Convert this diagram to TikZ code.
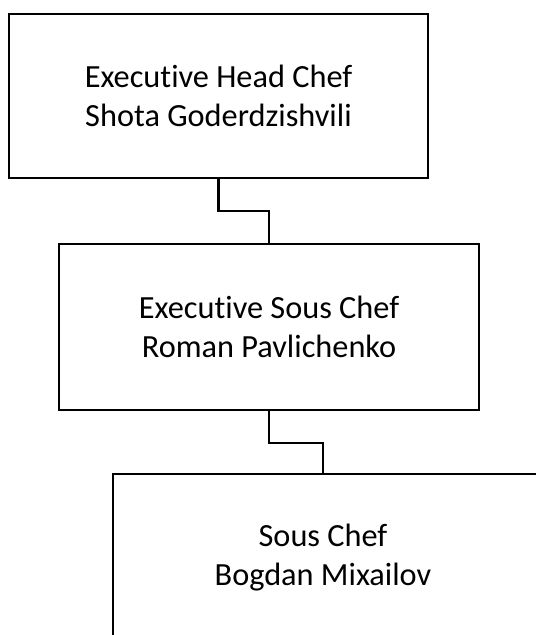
\documentclass[tikz,border=0pt]{standalone}
\usepackage{fontspec}
\setmainfont{Carlito}[Ligatures=NoCommon]
\usepackage{tikz}

\begin{document}
\begin{tikzpicture}[x=0.02cm, y=-0.02cm,
    chefbox/.style={draw, line width=1.1pt, rectangle, minimum width=420*0.02cm,
        minimum height=166*0.02cm, inner sep=0pt, align=center,
        font=\fontsize{18.4}{22.2}\selectfont},
    cheftext/.style={inner sep=0pt, align=center,
        font=\fontsize{18.4}{22.2}\selectfont},
    link/.style={line width=1.4pt}]
                % Page frame
                \useasboundingbox (0,0) rectangle (536,635);
                \clip (0,0) rectangle (536,635);
                \fill[white] (0,0) rectangle (536,635);

                % Boxes
                \node[chefbox, minimum width=419*0.02cm, minimum height=164*0.02cm] (head) at (218.5,96)
                    {Executive Head Chef\\Shota Goderdzishvili};
                \node[chefbox] (exsous) at (269,327)
                    {Executive Sous Chef\\Roman Pavlichenko};
                \node[chefbox, minimum width=460*0.02cm] (sous) at (343,557) {};
                \node[cheftext] (soustext) at (323,558)
                    {Sous Chef\\Bogdan Mixailov};

                % Bends
                \coordinate (bend1) at (244,211);
                \coordinate (bend2) at (296,443);

                % Links
                \draw[link] (head.south) |- (bend1) -| (exsous.north);
                \draw[link] (exsous.south) |- (bend2) -| (soustext |- sous.north);
\end{tikzpicture}
\end{document}
